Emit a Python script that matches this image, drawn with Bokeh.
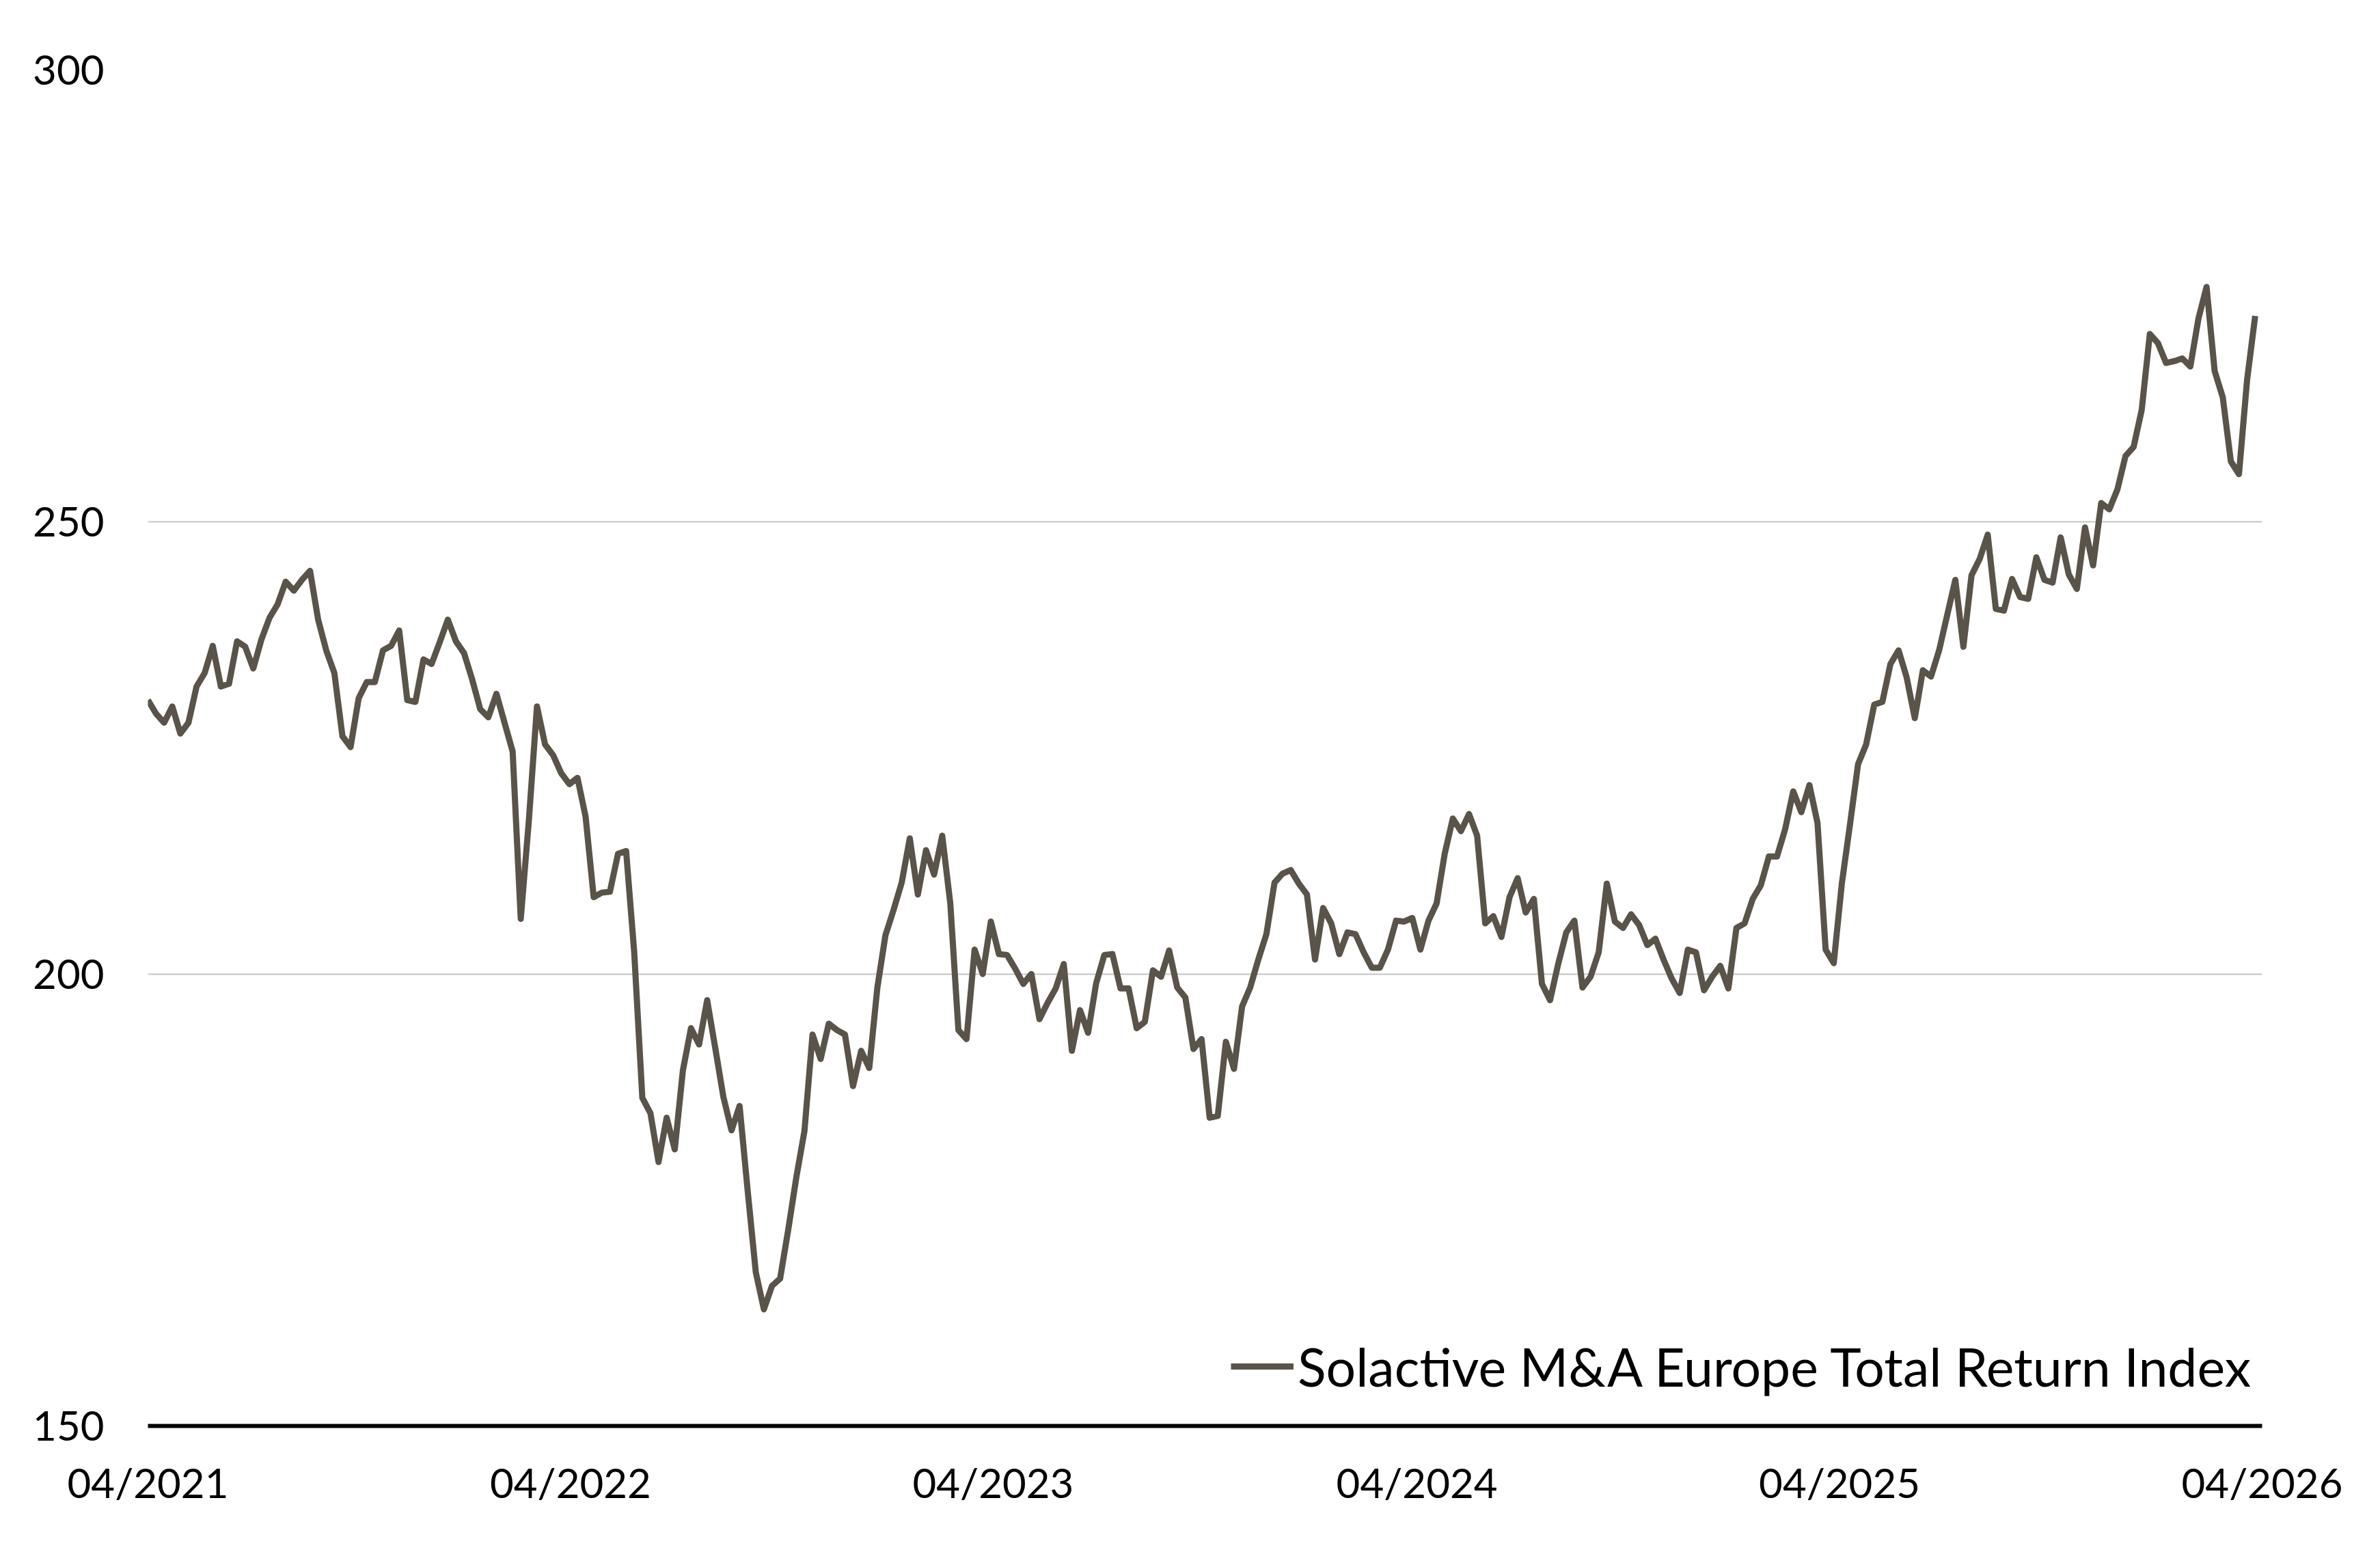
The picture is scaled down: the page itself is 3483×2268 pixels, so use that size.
import pandas as pd
from bokeh.plotting import figure
from bokeh.models import (FixedTicker, DatetimeTickFormatter, Legend, LegendItem,
                          Range1d, ColumnDataSource)
from bokeh.embed import file_html
from bokeh.resources import INLINE

series_name = "Solactive M&A Europe Total Return Index"
start_date = "2021-04-01"
index_values = [
    230.3, 228.8, 227.8, 229.6, 226.6, 227.8, 231.8, 233.3, 236.3, 231.8,
    232.1, 236.8, 236.2, 233.8, 237.0, 239.4, 240.9, 243.4, 242.4, 243.6,
    244.6, 239.2, 235.8, 233.3, 226.3, 225.1, 230.5, 232.3, 232.3, 235.8,
    236.3, 238.0, 230.3, 230.1, 234.8, 234.3, 236.7, 239.2, 236.8, 235.5,
    232.6, 229.3, 228.4, 231.0, 227.8, 224.6, 206.1, 217.0, 229.6, 225.4,
    224.2, 222.2, 221.0, 221.7, 217.4, 208.5, 209.0, 209.1, 213.3, 213.6,
    202.4, 186.3, 184.6, 179.2, 184.1, 180.6, 189.3, 194.0, 192.2, 197.1,
    191.8, 186.4, 182.7, 185.4, 176.0, 167.0, 162.9, 165.5, 166.3, 171.7,
    177.5, 182.6, 193.3, 190.6, 194.5, 193.8, 193.3, 187.6, 191.5, 189.6,
    198.5, 204.3, 207.1, 210.1, 215.0, 208.8, 213.7, 211.0, 215.3, 207.8,
    193.8, 192.8, 202.7, 200.0, 205.8, 202.2, 202.1, 200.6, 198.9, 200.0,
    195.0, 196.8, 198.4, 201.1, 191.5, 196.0, 193.5, 199.0, 202.1, 202.2,
    198.4, 198.4, 194.0, 194.7, 200.4, 199.7, 202.6, 198.5, 197.4, 191.7,
    192.8, 184.1, 184.3, 192.5, 189.5, 196.4, 198.5, 201.6, 204.4, 210.1,
    211.1, 211.5, 210.0, 208.8, 201.6, 207.3, 205.6, 202.2, 204.6, 204.4,
    202.4, 200.7, 200.7, 202.7, 205.9, 205.8, 206.2, 202.7, 205.9, 207.8,
    213.3, 217.2, 215.8, 217.7, 215.3, 205.6, 206.4, 204.1, 208.5, 210.6,
    206.8, 208.3, 198.9, 197.1, 201.1, 204.6, 205.9, 198.5, 199.7, 202.4,
    210.0, 205.8, 205.1, 206.6, 205.4, 203.2, 203.9, 201.6, 199.5, 197.9,
    202.7, 202.4, 198.2, 199.7, 200.9, 198.4, 205.1, 205.6, 208.3, 209.8,
    213.0, 213.0, 216.0, 220.2, 217.9, 220.9, 216.7, 202.7, 201.2, 210.0,
    216.5, 223.2, 225.4, 229.8, 230.1, 234.3, 235.8, 232.8, 228.3, 233.6,
    232.9, 235.8, 239.7, 243.6, 236.2, 244.1, 245.9, 248.6, 240.4, 240.2,
    243.7, 241.7, 241.5, 246.1, 243.6, 243.3, 248.3, 244.2, 242.6, 249.4,
    245.2, 252.1, 251.4, 253.6, 257.3, 258.3, 262.4, 270.8, 269.8, 267.6,
    267.8, 268.1, 267.2, 272.5, 276.0, 266.7, 263.8, 256.7, 255.3, 265.7,
    272.8,
]
tick_dates = ["2021-04-01", "2022-04-01", "2023-04-01", "2024-04-01",
              "2025-04-01", "2026-04-01"]
y_ticks = [150, 200, 250, 300]
y_min, y_max = 150, 300

dates = pd.date_range(start_date, periods=len(index_values), freq="7D")
source = ColumnDataSource(data=dict(date=dates, value=index_values))

FONT = "Lato"
LINE_COLOR = "#5A534A"

p = figure(width=3467, height=2252, output_backend="svg", toolbar_location=None,
           x_axis_type="datetime",
           x_range=Range1d(pd.Timestamp(tick_dates[0]), pd.Timestamp(tick_dates[-1])),
           y_range=Range1d(y_min, y_max),
           min_border_left=216, min_border_right=157,
           min_border_top=102, min_border_bottom=166)
p.outline_line_color = None
p.background_fill_color = "white"
p.border_fill_color = "white"

r = p.line("date", "value", source=source, line_color=LINE_COLOR, line_width=9,
           line_join="round")

tick_ms = [pd.Timestamp(d).value // 10**6 for d in tick_dates]
p.xaxis.ticker = FixedTicker(ticks=tick_ms)
fmt = "%m/%Y"
p.xaxis.formatter = DatetimeTickFormatter(
    years=fmt, months=fmt, days=fmt, hours=fmt, minutes=fmt, seconds=fmt,
    milliseconds=fmt, microseconds=fmt, hourmin=fmt, minsec=fmt)
p.xaxis.axis_line_color = "black"
p.xaxis.axis_line_width = 6
p.xaxis.major_tick_line_color = None
p.xaxis.minor_tick_line_color = None
p.xaxis.major_label_text_font = FONT
p.xaxis.major_label_text_font_size = "60px"
p.xaxis.major_label_text_color = "black"
p.xaxis.major_label_standoff = 40

p.yaxis.ticker = FixedTicker(ticks=y_ticks)
p.yaxis.axis_line_color = None
p.yaxis.major_tick_line_color = None
p.yaxis.minor_tick_line_color = None
p.yaxis.major_label_text_font = FONT
p.yaxis.major_label_text_font_size = "60px"
p.yaxis.major_label_text_color = "black"
p.yaxis.major_label_standoff = 58

p.xgrid.visible = False
p.ygrid.ticker = FixedTicker(ticks=y_ticks)
p.ygrid.grid_line_color = "#C4C4C4"
p.ygrid.grid_line_width = 2

legend = Legend(items=[LegendItem(label=series_name, renderers=[r])],
                location="bottom_right", border_line_color=None,
                background_fill_alpha=0, label_text_font=FONT,
                label_text_font_size="77px", label_text_color="black",
                glyph_width=92, glyph_height=142, label_height=142,
                label_standoff=6, padding=0, margin=16, spacing=0)
p.add_layout(legend)

open("out.html", "w").write(file_html(p, INLINE))
